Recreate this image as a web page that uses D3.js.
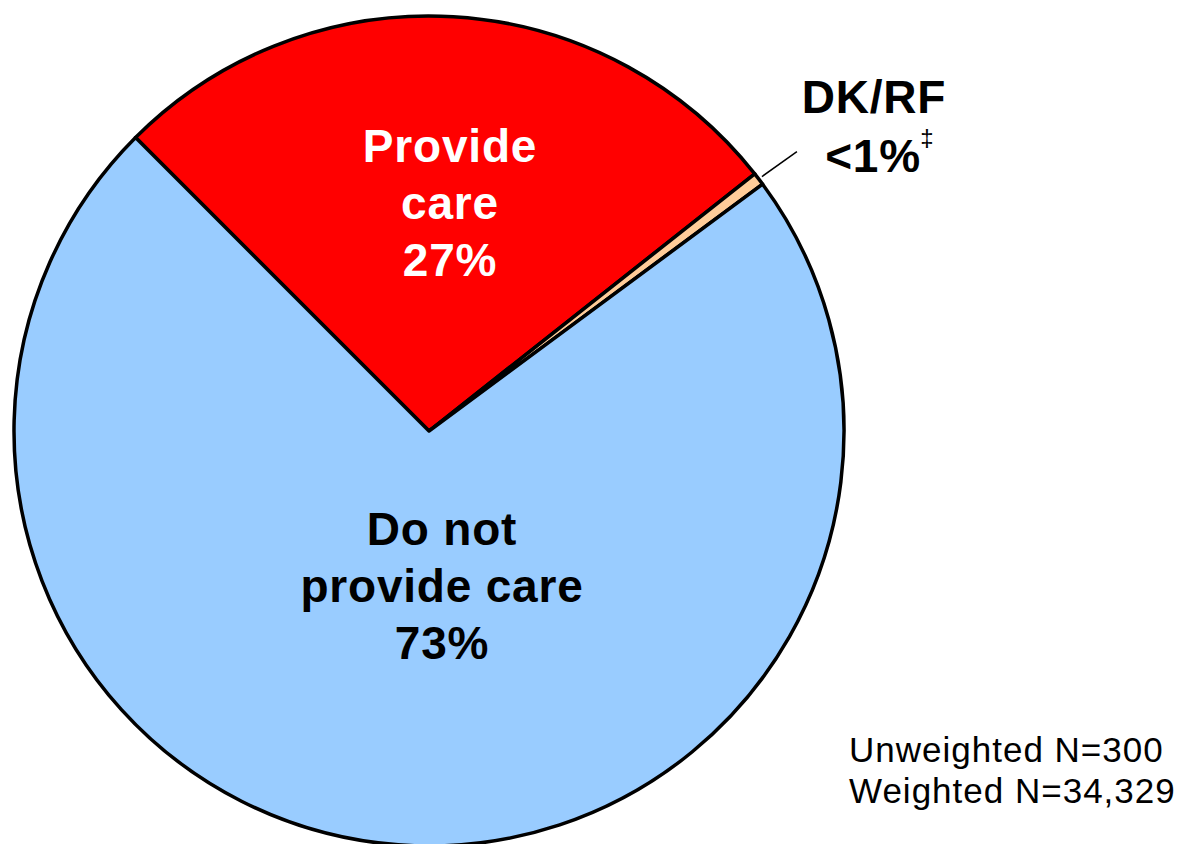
<!DOCTYPE html>
<html>
<head>
<meta charset="utf-8">
<script src="https://cdn.jsdelivr.net/npm/d3@7"></script>
<style>
  html, body { margin: 0; padding: 0; background: #ffffff; }
  svg { display: block; }
  text { font-family: "Liberation Sans", Arial, sans-serif; }
</style>
</head>
<body>
<svg id="chart" width="1182" height="844"></svg>
<script>
// Slice categories, shares (%) and fills, in drawing order (clockwise from the upper left)
const categories = ["Provide care", "DK/RF", "Do not provide care"];
const shares = [27, 0.5, 73];
const fills = ["#FF0000", "#FFCC99", "#99CCFF"];
const sliceLabels = [["Provide", "care", "27%"], ["DK/RF", "<1%"], ["Do not", "provide care", "73%"]];
const footnotes = ["Unweighted N=300", "Weighted N=34,329"];

const svg = d3.select("#chart");
const cx = 429, cy = 431, radius = 415;

const pie = d3.pie()
  .sort(null)
  .value(d => d)
  .startAngle(-Math.PI / 4)
  .endAngle(2 * Math.PI - Math.PI / 4);

const arcs = pie(shares);
const arc = d3.arc().innerRadius(0).outerRadius(radius);

const g = svg.append("g").attr("transform", `translate(${cx},${cy})`);

g.selectAll("path.slice")
  .data(arcs)
  .join("path")
  .attr("class", "slice")
  .attr("d", arc)
  .attr("fill", (d, i) => fills[i])
  .attr("stroke", "#000")
  .attr("stroke-width", 3.5)
  .attr("stroke-linejoin", "round");

const fontSize = 46, lineGap = 57, spacing = 0.8;

// "Provide care" label, inside the red slice
const pc = g.append("text")
  .attr("text-anchor", "middle")
  .attr("font-weight", "bold")
  .attr("font-size", fontSize)
  .attr("letter-spacing", spacing)
  .attr("fill", "#fff");
sliceLabels[0].forEach((s, i) => {
  pc.append("tspan").attr("x", 21).attr("y", -269 + i * lineGap).text(s);
});

// "Do not provide care" label, inside the blue slice
const dn = g.append("text")
  .attr("text-anchor", "middle")
  .attr("font-weight", "bold")
  .attr("font-size", fontSize)
  .attr("letter-spacing", spacing)
  .attr("fill", "#000");
sliceLabels[2].forEach((s, i) => {
  dn.append("tspan").attr("x", 13).attr("y", 114 + i * lineGap).text(s);
});

// DK/RF: outside label with a leader line from the thin slice
const small = arcs[1];
const mid = (small.startAngle + small.endAngle) / 2;
const r0 = radius + 4;
g.append("line")
  .attr("x1", Math.sin(mid) * r0)
  .attr("y1", -Math.cos(mid) * r0)
  .attr("x2", Math.sin(mid) * r0 + 35)
  .attr("y2", -Math.cos(mid) * r0 - 25)
  .attr("stroke", "#000")
  .attr("stroke-width", 1.5);

const dk = svg.append("text")
  .attr("text-anchor", "middle")
  .attr("font-weight", "bold")
  .attr("font-size", fontSize)
  .attr("letter-spacing", spacing)
  .attr("fill", "#000");
dk.append("tspan").attr("x", 874).attr("y", 113).text(sliceLabels[1][0]);
dk.append("tspan").attr("x", 873).attr("y", 172).text(sliceLabels[1][1]);

svg.append("text")
  .attr("x", 927).attr("y", 146)
  .attr("text-anchor", "middle")
  .attr("font-size", 24)
  .attr("fill", "#000")
  .text("\u2021");

// Sample sizes, lower right
svg.selectAll("text.foot")
  .data(footnotes)
  .join("text")
  .attr("class", "foot")
  .attr("x", 849)
  .attr("y", (d, i) => 762 + i * 41)
  .attr("font-size", 35)
  .attr("letter-spacing", 1)
  .attr("fill", "#000")
  .text(d => d);
</script>
</body>
</html>
